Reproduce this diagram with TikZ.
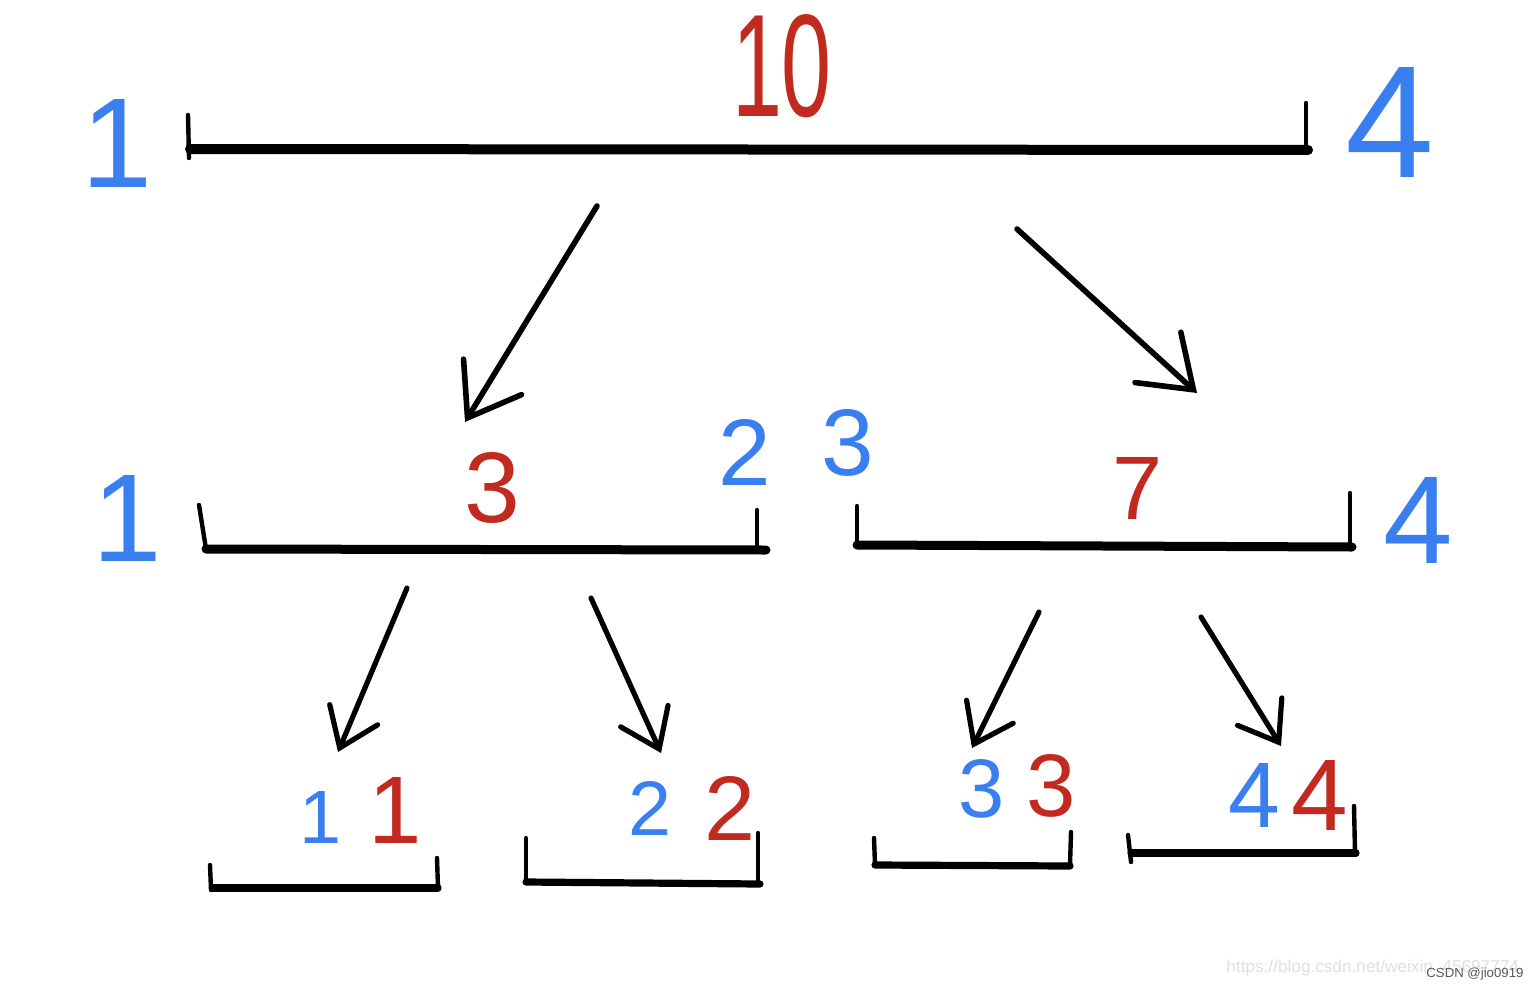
\documentclass[tikz,border=0pt]{standalone}
\usepackage{graphicx}
\usepackage{fontspec}
\setmainfont{Liberation Sans}
\usetikzlibrary{arrows.meta}
\definecolor{hblue}{HTML}{3A7FF0}
\definecolor{hred}{HTML}{C22A1F}
\newcommand{\hd}[2]{\resizebox{!}{#1}{#2}}
\tikzset{
  lbl/.style={inner sep=0pt, outer sep=0pt, anchor=center},
  bl/.style={lbl, text=hblue},
  rd/.style={lbl, text=hred},
  seg/.style={line cap=round, line join=round, black},
  tick/.style={seg, line width=2.2pt},
  barT/.style={seg, line width=5pt},
  barM/.style={seg, line width=4.5pt},
  barB/.style={seg, line width=3.6pt},
  arrbig/.style={line width=2.8pt, line cap=round, line join=round, -{Straight Barb[length=24pt,width=34pt,line cap=round]}},
  arrsm/.style={line width=2.6pt, line cap=round, line join=round, -{Straight Barb[length=18pt,width=26pt,line cap=round]}},
}
\begin{document}
\begin{tikzpicture}[x=0.5pt,y=-0.5pt]
\useasboundingbox (0,0) rectangle (1534,990);
\fill[white] (0,0) rectangle (1534,990);

% ---------- level 1 ----------
\draw[tick] (188,115) -- (189,158);
\draw[barT] (190,149) -- (1308,150);
\draw[tick] (1306,103) -- (1306,150);
\node[bl] (t1) at (117,143) {\hd{44pt}{1}};
\node[rd] (t10) at (782,66) {\resizebox{50pt}{51pt}{10}};
\node[bl] (t4) at (1390,122) {\hd{55pt}{4}};

% ---------- level 2 ----------
\draw[tick] (199,505) -- (206,549);
\draw[barM] (206,549) -- (766,550);
\draw[tick] (757,510) -- (757,550);
\draw[tick] (857,506) -- (857,545);
\draw[barM] (857,545) -- (1352,547);
\draw[tick] (1350,493) -- (1350,547);
\node[bl] (m1) at (127,518) {\hd{43pt}{1}};
\node[rd] (m3) at (492,488) {\hd{35pt}{3}};
\node[bl] (m2) at (745,452) {\hd{33pt}{2}};
\node[bl] (m3b) at (848,443) {\hd{33pt}{3}};
\node[rd] (m7) at (1138,488) {\hd{31pt}{7}};
\node[bl] (m4) at (1418,520) {\hd{43pt}{4}};

% ---------- level 3 ----------
\draw[tick] (210,865) -- (211,890);
\draw[barB] (213,888) -- (438,888);
\draw[tick] (437,858) -- (438,888);
\draw[tick] (526,838) -- (526,882);
\draw[barB] (526,882) -- (760,884);
\draw[tick] (758,833) -- (758,884);
\draw[tick] (874,838) -- (875,865);
\draw[barB] (875,865) -- (1070,866);
\draw[tick] (1071,832) -- (1070,865);
\draw[tick] (1128,835) -- (1131,862);
\draw[barB] (1131,853) -- (1356,853);
\draw[tick] (1354,806) -- (1355,853);
\node[bl] (b1b) at (321,817) {\hd{26pt}{1}};
\node[rd] (b1r) at (395,810) {\hd{33pt}{1}};
\node[bl] (b2b) at (650,808) {\hd{27pt}{2}};
\node[rd] (b2r) at (730,808) {\hd{32pt}{2}};
\node[bl] (b3b) at (982,789) {\hd{29pt}{3}};
\node[rd] (b3r) at (1051,786) {\hd{31pt}{3}};
\node[bl] (b4b) at (1254,795) {\hd{32pt}{4}};
\node[rd] (b4r) at (1320,795) {\hd{35pt}{4}};

% ---------- arrows ----------
\coordinate (a1s) at (597,206);  \coordinate (a1e) at (465,422);
\coordinate (a2s) at (1017,229); \coordinate (a2e) at (1197,393);
\coordinate (a3s) at (407,588);  \coordinate (a3e) at (338,752);
\coordinate (a4s) at (591,598);  \coordinate (a4e) at (661,753);
\coordinate (a5s) at (1039,612); \coordinate (a5e) at (972,748);
\coordinate (a6s) at (1201,617); \coordinate (a6e) at (1281,746);
\draw[arrbig] (a1s) -- (a1e);
\draw[arrbig] (a2s) -- (a2e);
\draw[arrsm] (a3s) -- (a3e);
\draw[arrsm] (a4s) -- (a4e);
\draw[arrsm] (a5s) -- (a5e);
\draw[arrsm] (a6s) -- (a6e);

% ---------- watermark ----------
\node[anchor=base west, inner sep=0pt, text=black!12, font=\fontsize{8.6pt}{9pt}\selectfont] (wm) at (1226,972) {https://blog.csdn.net/weixin\_45697774};
\node[anchor=base west, inner sep=0pt, text=black!65, font=\fontsize{6.6pt}{7pt}\selectfont] (wm2) at (1426,977) {CSDN @jio0919};
\end{tikzpicture}
\end{document}
